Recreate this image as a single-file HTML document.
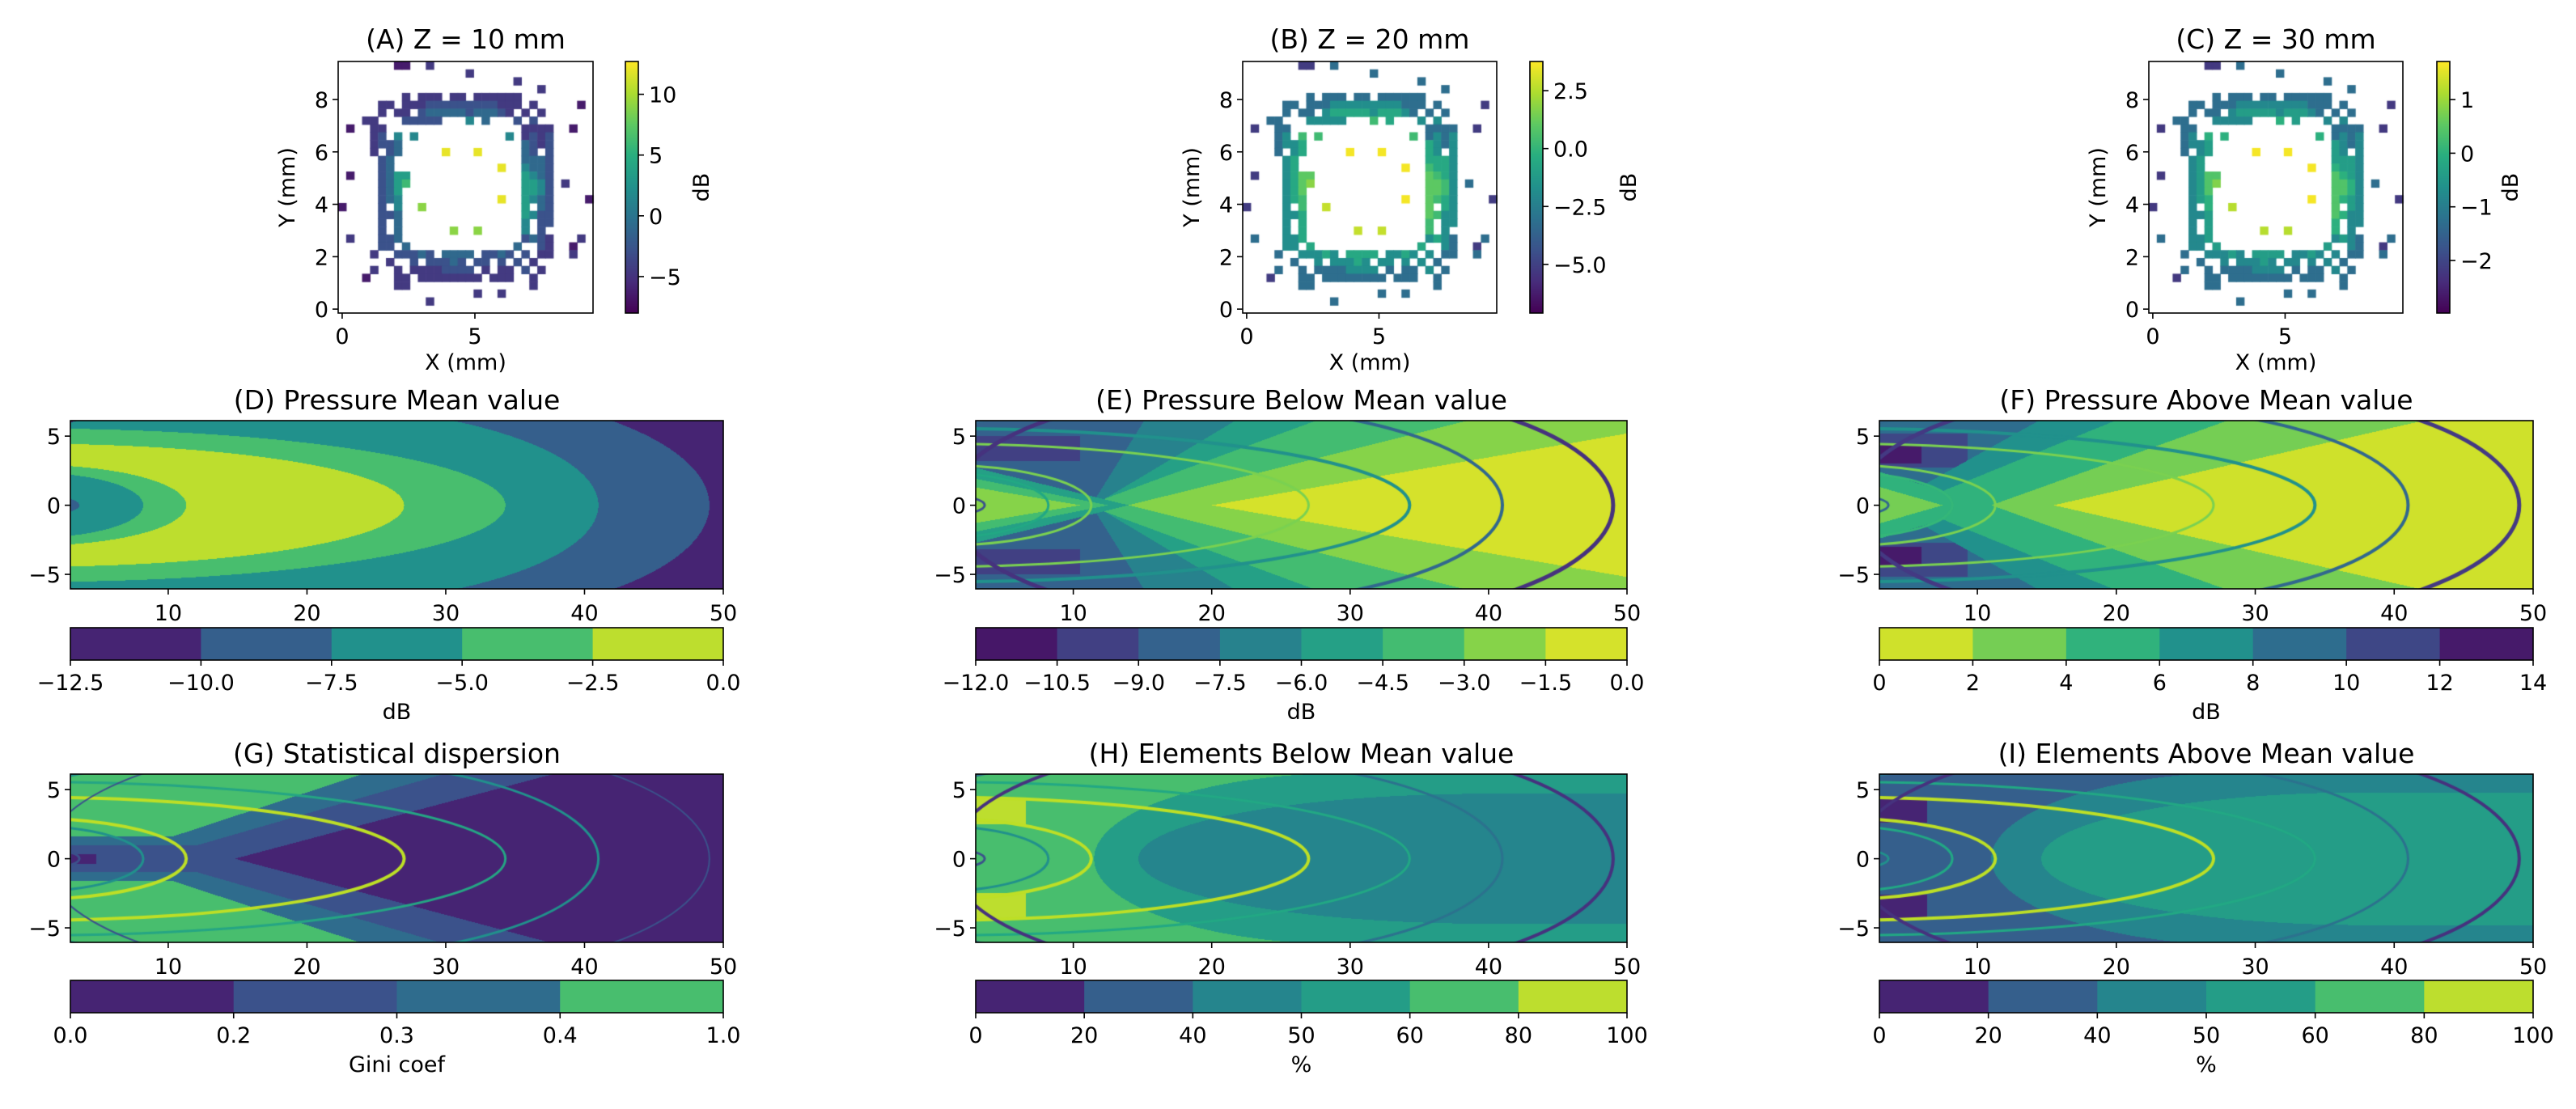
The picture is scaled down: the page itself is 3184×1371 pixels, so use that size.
<!DOCTYPE html>
<html><head><meta charset="utf-8"><title>Pressure field figure</title>
<style>
html,body{margin:0;padding:0;background:#fff;}
#wrap{position:relative;width:3184px;height:1371px;overflow:hidden;}
canvas,svg{position:absolute;left:0;top:0;}
text{font-family:"DejaVu Sans","Liberation Sans",sans-serif;fill:#000;}
</style></head>
<body>
<div id="wrap">
<canvas id="cv" width="3184" height="1371"></canvas>
<svg id="ov" width="3184" height="1371" xmlns="http://www.w3.org/2000/svg"></svg>
</div>
<script>
// ---------- DATA ----------
// heatmap pattern (rows top y=9.3 -> bottom y=0), 0.3 mm cells
const gridRows = [
".......11..2....................",
"................2...............",
"......................2.........",
".........................2......",
"........2.222.22.222222.........",
".....22.222333333333222.2.....1.",
".....2.22.344444344432.2.2......",
"...22...33333...5.4...3.3.......",
".1..22.................2222..1..",
"....23.5.5...........5.2323.....",
"....2334...............4323.....",
"....2.34.....9...9.....43.3.....",
".....34................4443.....",
".....34.............9..5443.....",
".1...3466..............6543.....",
".....3467..............6653.2...",
".....346...............6653.....",
".....345............9..6543....1",
"1....3.5..8............6.43.....",
".....334...............6533.....",
".....3.4...............5.33.....",
".....3.4......8..8.....5.3......",
".2...334...............3432...2.",
".....33.4.............4..32..1..",
"....2..33343.4444.3343.3.22..2..",
"......2..3.33343.33.3.3.2.......",
"....2..2.22223333.2.22.3.2......",
"...1...22.22222222.222..2.......",
".......22...............2.......",
".................2..2...........",
"...........2....................",
"................................"
];
const aLevelVals = [-6.5,-4.5,-2.8,-1.0,1.5,3.5,6,9,12];
const bLevelVals = [-5.2,-3.2,-1.8,-0.6,0.3,1.0,1.8,2.8,3.6];
const cLevelVals = [-2.2,-1.3,-0.8,-0.4,0.0,0.4,0.8,1.2,1.65];
const aRange = [-8.0,12.7];
const bRange = [-7.1,3.76];
const cRange = [-2.98,1.71];
const aCbTicks = [-5,0,5,10];
const aCbLabels = ["−5","0","5","10"];
const bCbTicks = [-5,-2.5,0,2.5];
const bCbLabels = ["−5.0","−2.5","0.0","2.5"];
const cCbTicks = [-2,-1,0,1];
const cCbLabels = ["−2","−1","0","1"];

// contour band levels (colorbar tick labels)
const dLevels = ["−12.5","−10.0","−7.5","−5.0","−2.5","0.0"];
const eLevels = ["−12.0","−10.5","−9.0","−7.5","−6.0","−4.5","−3.0","−1.5","0.0"];
const fLevels = ["0","2","4","6","8","10","12","14"];
const gLevels = ["0.0","0.2","0.3","0.4","1.0"];
const gLevelNum = [0,0.2,0.3,0.4,1.0];
const hLevels = ["0","20","40","50","60","80","100"];
const hLevelNum = [0,20,40,50,60,80,100];

// region layers (data units: x in mm, y in mm); c = band index
const dLayers = [
 {t:'ell',cx:25,a:24,b:8.64,c:1},{t:'ell',cx:17,a:24,b:7.4,c:2},{t:'ell',cx:0,a:34.3,b:5.55,c:3},
 {t:'ell',cx:0,a:27,b:4.45,c:4},{t:'ell',cx:0,a:11.3,b:2.93,c:3},{t:'ell',cx:0,a:8.2,b:2.36,c:2},
 {t:'ell',cx:0,a:3.6,b:0.8,c:1}];
const eLayers = [
 {t:'box',x1:3,x2:10.5,y1:3.2,y2:5.0,c:1},{t:'wedge',x0:11.3,s:1.6,c:3},{t:'wedge',x0:11.5,s:0.6,c:4},
 {t:'wedge',x0:11,s:0.37,c:5},{t:'wedge',x0:14,s:0.25,c:6},{t:'wedge',x0:20,s:0.173,c:7},
 {t:'lwedge',x1:14,s:0.245,c:4},{t:'lwedge',x1:12.5,s:0.2,c:5},{t:'lwedge',x1:10.5,s:0.17,c:6}];
const fLayers = [
 {t:'box',x1:3,x2:9.3,y1:2.7,y2:5.2,c:5},{t:'box',x1:3,x2:6,y1:3.0,y2:4.4,c:6},
 {t:'wedge',x0:3.5,s:0.56,c:3},{t:'wedge',x0:5,s:0.41,c:2},{t:'wedge',x0:11,s:0.36,c:1},
 {t:'wedge',x0:15.5,s:0.23,c:0},{t:'lwedge',x1:11,s:0.3,c:2},{t:'lwedge',x1:7.5,s:0.29,c:1}];
const gLayers = [
 {t:'owedge',y0:0,x1:14.8,s:0.267,c:1},{t:'owedge',y0:0.95,x1:12,s:0.29,c:2},
 {t:'owedge',y0:1.6,x1:10.3,s:0.33,c:3},{t:'box',x1:3,x2:4.8,y1:0,y2:0.35,c:0}];
const hLayers = [
 {t:'cap',cx:30,a:18.5,b:6.2,c:3},{t:'cap',cx:40,a:25.3,b:4.7,c:2},
 {t:'box',x1:3,x2:6.6,y1:2.5,y2:4.4,c:5}];
const iLayers = [
 {t:'cap',cx:30,a:19,b:6.3,c:2},{t:'cap',cx:38,a:23.4,b:4.8,c:3},
 {t:'box',x1:3,x2:6.4,y1:2.6,y2:4.3,c:0}];

// overlaid mean-pressure contour lines
const curveCx = [0,0,0,0,0,17,25];
const curveA  = [3.6,8.2,11.3,27,34.3,24,24];
const curveB  = [0.8,2.36,2.93,4.45,5.55,7.4,8.64];
const eLineColors = ['#3b528b','#22a884','#7ad151','#7ad151','#21918c','#31688e','#46327e'];
const fLineColors = ['#31688e','#35b779','#7ad151','#7ad151','#21918c','#31688e','#443983'];
const gLineColors = ['#3b528b','#21918c','#bddf26','#bddf26','#25a584','#21918c','#3b528b'];
const hLineColors = ['#3b528b','#21918c','#bddf26','#bddf26','#22a884','#2c728e','#46327e'];
const iLineColors = ['#21918c','#22a884','#bddf26','#bddf26','#22a884','#2c728e','#46327e'];
const eLineW = [3,3,3,3,4,4,5];
const gLineW = [3,3,4,4,3,3,2];
const hLineW = [3,3,4,4,3,3,4];

const xTicks = [10,20,30,40,50];
const yTicks = [-5,0,5];
const yTickLabels = ["−5","0","5"];
const topXTicks = [0,5];
const topYTicks = [0,2,4,6,8];

// ---------- helpers ----------
const VS=['#440154','#472d7b','#3b528b','#2c728e','#21918c','#28ae80','#5ec962','#addc30','#fde725'];
function hex(h){return [parseInt(h.substr(1,2),16),parseInt(h.substr(3,2),16),parseInt(h.substr(5,2),16)];}
const VSr=VS.map(hex);
function viridis(t){t=Math.max(0,Math.min(1,t));const f=t*8;const i=Math.min(7,Math.floor(f));const r=f-i;
 const a=VSr[i],b=VSr[i+1];return [0,1,2].map(k=>Math.round(a[k]+(b[k]-a[k])*r));}
function rgb(c){return 'rgb('+c[0]+','+c[1]+','+c[2]+')';}
const cv=document.getElementById('cv');const ctx=cv.getContext('2d');
const ov=document.getElementById('ov');const NS='http://www.w3.org/2000/svg';
function mk(tag,at){const e=document.createElementNS(NS,tag);for(const k in at)e.setAttribute(k,at[k]);ov.appendChild(e);return e;}
function txt(s,x,y,size,anchor,rot){const e=mk('text',{x:x,y:y,'font-size':size,'text-anchor':anchor||'middle'});
 if(rot)e.setAttribute('transform','rotate(-90 '+x+' '+y+')');e.textContent=s;return e;}

function inside(L,x,y){const ay=Math.abs(y);
 if(L.t==='ell'){const u=(x-L.cx)/L.a,v=y/L.b;return u*u+v*v<1;}
 if(L.t==='wedge')return x>L.x0&&ay<L.s*(x-L.x0);
 if(L.t==='lwedge')return ay<L.s*(L.x1-x);
 if(L.t==='box')return x>=L.x1&&x<=L.x2&&ay>=L.y1&&ay<=L.y2;
 if(L.t==='owedge')return ay>L.y0+L.s*Math.max(0,x-L.x1);
 if(L.t==='cap'){if(x>=L.cx)return ay<L.b;const u=(x-L.cx)/L.a,v=y/L.b;return u*u+v*v<1;}
 return false;}

const XMIN=2.95,XMAX=50,YMIN=-6.05,YMAX=6.12;

function contourPanel(o){
 const {name,left,top,w,h,layers,colors,title,cbTop,cbLabels,cbLabelName,lineColors,lineW}=o;
 const img=ctx.createImageData(w,h);
 for(let py=0;py<h;py++){const y=YMAX-(py+0.5)/h*(YMAX-YMIN);
  for(let px=0;px<w;px++){const x=XMIN+(px+0.5)/w*(XMAX-XMIN);let idx=o.base;
   for(const L of layers)if(inside(L,x,y))idx=L.c;const c=colors[idx];const p=(py*w+px)*4;
   img.data[p]=c[0];img.data[p+1]=c[1];img.data[p+2]=c[2];img.data[p+3]=255;}}
 ctx.putImageData(img,left,top);
 const sx=w/(XMAX-XMIN),sy=h/(YMAX-YMIN);
 const X=v=>left+(v-XMIN)*sx, Y=v=>top+(YMAX-v)*sy;
 if(lineColors){ctx.save();ctx.beginPath();ctx.rect(left,top,w,h);ctx.clip();
  for(let i=0;i<curveA.length;i++){ctx.beginPath();ctx.ellipse(X(curveCx[i]),Y(0),curveA[i]*sx,curveB[i]*sy,0,0,Math.PI*2);
   ctx.strokeStyle=lineColors[i];ctx.lineWidth=lineW[i];ctx.stroke();}
  ctx.restore();}
 const fr=mk('rect',{x:left,y:top,width:w,height:h,fill:'none',stroke:'#000','stroke-width':1.6});
 
 
 const t=txt(title,left+w/2,top-14,33);
 
 
 for(const v of xTicks){const xx=X(v);
  const tk=mk('line',{x1:xx,y1:top+h,x2:xx,y2:top+h+7,stroke:'#000','stroke-width':1.6});
  
  
  const tl=txt(String(v),xx,top+h+39,27);
  
  }
 yTicks.forEach((v,i)=>{const yy=Y(v);
  const tk=mk('line',{x1:left-7,y1:yy,x2:left,y2:yy,stroke:'#000','stroke-width':1.6});
  
  
  const tl=txt(yTickLabels[i],left-12,yy+10,27,'end');
  
  });
 // horizontal colorbar
 const n=colors.length,bw=w/n,cbH=40;
 for(let i=0;i<n;i++){const r=mk('rect',{x:left+i*bw,y:cbTop,width:bw+0.5,height:cbH,fill:rgb(colors[i])});
  
  }
 const cf=mk('rect',{x:left,y:cbTop,width:w,height:cbH,fill:'none',stroke:'#000','stroke-width':1.6});
 
 
 cbLabels.forEach((s,i)=>{const xx=left+i*bw;
  const tk=mk('line',{x1:xx,y1:cbTop+cbH,x2:xx,y2:cbTop+cbH+7,stroke:'#000','stroke-width':1.6});
  
  
  const tl=txt(s,xx,cbTop+cbH+37,27);
  
  });
 const cl=txt(cbLabelName,left+w/2,cbTop+cbH+73,27);
 
 
}

function heatPanel(o){
 const {name,left,top,w,h,vals,range,cbLeft,cbTicks,cbLabels,title,cbLabelX}=o;
 const x0=-0.15,x1=9.45,y0=-0.15,y1=9.45;const sx=w/(x1-x0),sy=h/(y1-y0);
 const X=v=>left+(v-x0)*sx,Y=v=>top+(y1-v)*sy;
 for(let r=0;r<32;r++){const row=gridRows[r];const j=31-r;
  for(let i=0;i<32;i++){const ch=row[i];if(!ch||ch==='.')continue;const v=vals[parseInt(ch)-1];
   ctx.fillStyle=rgb(viridis((v-range[0])/(range[1]-range[0])));
   ctx.fillRect(X(i*0.3-0.15),Y(j*0.3+0.15),0.3*sx+0.6,0.3*sy+0.6);}}
 const fr=mk('rect',{x:left,y:top,width:w,height:h,fill:'none',stroke:'#000','stroke-width':1.6});
 
 
 const t=txt(title,left+w/2,top-16,33);
 
 
 for(const v of topXTicks){const xx=X(v);
  const tk=mk('line',{x1:xx,y1:top+h,x2:xx,y2:top+h+7,stroke:'#000','stroke-width':1.6});
  
  
  const tl=txt(String(v),xx,top+h+38,27);
  
  }
 for(const v of topYTicks){const yy=Y(v);
  const tk=mk('line',{x1:left-7,y1:yy,x2:left,y2:yy,stroke:'#000','stroke-width':1.6});
  
  
  const tl=txt(String(v),left-12,yy+10,27,'end');
  
  }
 const xl=txt('X (mm)',left+w/2,top+h+70,27);
 
 
 const yl=txt('Y (mm)',left-54,top+h/2,27,'middle',true);
 
 
 // vertical colorbar
 const cw=16;
 for(let py=0;py<h;py++){ctx.fillStyle=rgb(viridis(1-(py+0.5)/h));ctx.fillRect(cbLeft,top+py,cw,1);}
 const cf=mk('rect',{x:cbLeft,y:top,width:cw,height:h,fill:'none',stroke:'#000','stroke-width':1.6});
 
 
 cbTicks.forEach((v,i)=>{const yy=top+(range[1]-v)/(range[1]-range[0])*h;
  const tk=mk('line',{x1:cbLeft+cw,y1:yy,x2:cbLeft+cw+7,y2:yy,stroke:'#000','stroke-width':1.6});
  
  
  const tl=txt(cbLabels[i],cbLeft+cw+13,yy+10,27,'start');
  
  });
 const cl=txt('dB',cbLabelX,top+h/2,27,'middle',true);
 
 
}

function bandColors(n,rev){const a=[];for(let i=0;i<n;i++){const t=(i+0.5)/n;a.push(viridis(rev?1-t:t));}return a;}
function levelColors(nums){const lo=nums[0],hi=nums[nums.length-1];const a=[];
 for(let i=0;i<nums.length-1;i++)a.push(viridis(((nums[i]+nums[i+1])/2-lo)/(hi-lo)));return a;}

// ---------- draw ----------
heatPanel({name:'panel-a',left:418,top:76,w:315,h:311,vals:aLevelVals,range:aRange,cbLeft:773,cbTicks:aCbTicks,cbLabels:aCbLabels,title:'(A) Z = 10 mm',cbLabelX:876});
heatPanel({name:'panel-b',left:1536,top:76,w:314,h:311,vals:bLevelVals,range:bRange,cbLeft:1891,cbTicks:bCbTicks,cbLabels:bCbLabels,title:'(B) Z = 20 mm',cbLabelX:2022});
heatPanel({name:'panel-c',left:2656,top:76,w:314,h:311,vals:cLevelVals,range:cRange,cbLeft:3012,cbTicks:cCbTicks,cbLabels:cCbLabels,title:'(C) Z = 30 mm',cbLabelX:3112});

contourPanel({name:'panel-d',left:87,top:520,w:807,h:208,layers:dLayers,base:0,colors:bandColors(5),title:'(D) Pressure Mean value',cbTop:776,cbLabels:dLevels,cbLabelName:'dB'});
contourPanel({name:'panel-e',left:1206,top:520,w:805,h:208,layers:eLayers,base:2,colors:bandColors(8),title:'(E) Pressure Below Mean value',cbTop:776,cbLabels:eLevels,cbLabelName:'dB',lineColors:eLineColors,lineW:eLineW});
contourPanel({name:'panel-f',left:2323,top:520,w:808,h:208,layers:fLayers,base:4,colors:bandColors(7,true),title:'(F) Pressure Above Mean value',cbTop:776,cbLabels:fLevels,cbLabelName:'dB',lineColors:fLineColors,lineW:eLineW});
contourPanel({name:'panel-g',left:87,top:957,w:807,h:208,layers:gLayers,base:0,colors:levelColors(gLevelNum),title:'(G) Statistical dispersion',cbTop:1212,cbLabels:gLevels,cbLabelName:'Gini coef',lineColors:gLineColors,lineW:gLineW});
contourPanel({name:'panel-h',left:1206,top:957,w:805,h:208,layers:hLayers,base:4,colors:levelColors(hLevelNum),title:'(H) Elements Below Mean value',cbTop:1212,cbLabels:hLevels,cbLabelName:'%',lineColors:hLineColors,lineW:hLineW});
contourPanel({name:'panel-i',left:2323,top:957,w:808,h:208,layers:iLayers,base:1,colors:levelColors(hLevelNum),title:'(I) Elements Above Mean value',cbTop:1212,cbLabels:hLevels,cbLabelName:'%',lineColors:iLineColors,lineW:hLineW});
</script>
</body></html>
